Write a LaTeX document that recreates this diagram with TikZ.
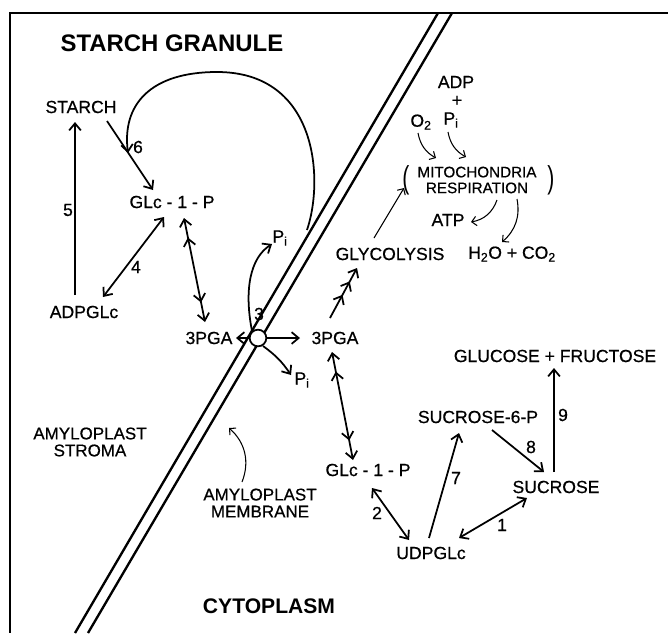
\documentclass[tikz,border=0pt]{standalone}
\usepackage{fontspec}
\setmainfont{Liberation Sans}
\newfontfamily\pen{Liberation Sans}[FakeBold=0.6]
\usetikzlibrary{arrows.meta,positioning,calc,decorations.markings}

\begin{document}
\begin{tikzpicture}[
  x=0.03cm, y=-0.03cm,
  >={Straight Barb[length=6pt,width=10pt]},
  every node/.style={font=\pen\fontsize{15}{16}\selectfont, inner sep=1pt},
  ttl/.style={font=\bfseries\fontsize{#1}{#1}\selectfont},
  two/.style={align=center, font=\pen\fontsize{14.5}{14.5}\selectfont},
  par/.style={font=\fontsize{18}{18}\selectfont},
  rx/.style={line width=1.5pt, ->},
  rv/.style={line width=1.5pt, <->},
  dbl/.style={rv, postaction={decorate}, decoration={markings,
      mark=at position 17pt with {\arrowreversed{>}},
      mark=at position -17pt with {\arrow{>}}}},
  tri/.style={rx, postaction={decorate}, decoration={markings,
      mark=at position -13pt with {\arrow{>}},
      mark=at position -26pt with {\arrow{>}}}},
  fine/.style={line width=0.9pt, -{Straight Barb[length=4pt,width=8pt]}},
  wall/.style={line width=2pt}
]
  \useasboundingbox (0,0) rectangle (668,633);
  % frame and membrane
  \draw[line width=1.6pt] (668,13) -- (10,13) -- (10,633);
  \draw[wall] (438,13) -- (75,633);
  \draw[wall] (452,13) -- (88,633);

  \node[ttl=20.4] (granule) at (172,43) {STARCH GRANULE};
  \node[ttl=18] (cyto) at (269,606) {CYTOPLASM};

  % amyloplast side
  \node (starch) at (81,107) {STARCH};
  \node (g1pin) at (172,202) {GLc - 1 - P};
  \node (adpg) at (84,312) {ADPGLc};
  \node (pgain) at (209,338) {3PGA};
  \node (piin) at (280,238) {P\textsubscript{i}};
  \node[circle, draw, fill=white, line width=1.5pt, minimum size=0.5cm] (trans) at (258,338) {};
  \node[two] (stroma) at (90,442) {AMYLOPLAST\\STROMA};
  \node[two] (membr) at (260,503) {AMYLOPLAST\\MEMBRANE};
  \coordinate (join6) at (128,153);

  % cytoplasm side
  \node (pgaout) at (335,338) {3PGA};
  \node (piout) at (302,380) {P\textsubscript{i}};
  \node (glyc) at (390,254) {GLYCOLYSIS};
  \node[align=center, font=\pen\fontsize{13}{13.5}\selectfont] (mito) at (477,180) {MITOCHONDRIA\\RESPIRATION};
  \node[par] (lpar) at (406,180) {\scalebox{1}[1.5]{(}};
  \node[par] (rpar) at (551,180) {\scalebox{1}[1.5]{)}};
  \node (adp) at (456,82) {ADP};
  \node (plus) at (457,101) {+};
  \node (o2) at (421,122) {O\textsubscript{2}};
  \node (pimito) at (451,120) {P\textsubscript{i}};
  \node (atp) at (448,220) {ATP};
  \node (h2o) at (512,254) {H\textsubscript{2}O + CO\textsubscript{2}};
  \node (g1pout) at (368,470) {GLc - 1 - P};
  \node (udpg) at (431,553) {UDPGLc};
  \node (suc6p) at (478,417) {SUCROSE-6-P};
  \node (sucr) at (556,487) {SUCROSE};
  \node (glufru) at (555,356) {GLUCOSE + FRUCTOSE};

  % enzyme numbers
  \node (n1) at (502,525) {1};
  \node (n2) at (377,513) {2};
  \node (n3) at (259,314) {3};
  \node (n4) at (136,267) {4};
  \node (n5) at (68,210) {5};
  \node (n6) at (138,147) {6};
  \node (n7) at (456,478) {7};
  \node (n8) at (531,447) {8};
  \node (n9) at (563,415) {9};

  \draw[rx] ($(adpg)+(-9,-17)$) -- ($(starch)+(-6,15)$);
  \draw[rx] ($(starch)+(26,14)$) -- ($(g1pin)+(-19,-12)$);
  \draw[rx] ($(piin)+(27,-8)$) .. controls (324,180) and (318,72) .. (217,72)
    .. controls (150,72) and (122,105) .. (join6);
  \draw[rv] ($(g1pin)+(-8,15)$) -- ($(adpg)+(19,-15)$);
  \draw[dbl] ($(g1pin)+(12,16)$) -- ($(pgain)+(-4,-16)$);
  \draw[rx] (trans) ++(-9,0) -- ($(pgain)+(27,0)$);
  \draw[rx] (trans) ++(9,0) -- ($(pgaout)+(-35,0)$);
  \draw[rx] ($(trans)+(-6,-7)$) .. controls (244,290) and (250,258) .. ($(piin)+(-8,6)$);
  \draw[rx] ($(trans)+(5,8)$) to[bend left=10] ($(piout)+(-11,-5)$);
  \draw[fine] ($(membr)+(-18,-21)$) to[bend right=35] ($(membr)+(-31,-75)$);

  \draw[tri] ($(pgaout)+(-5,-20)$) -- ($(glyc)+(-33,14)$);
  \draw[fine] ($(glyc)+(-16,-16)$) -- ($(mito)+(-73,8)$);
  \draw[fine] ($(o2)+(-3,11)$) to[bend right=25] ($(mito)+(-41,-22)$);
  \draw[fine] ($(pimito)+(-3,12)$) to[bend right=25] ($(mito)+(-11,-23)$);
  \draw[fine] ($(mito)+(20,20)$) to[bend left=30] ($(atp)+(23,2)$);
  \draw[fine] ($(mito)+(40,19)$) to[bend left=30] ($(h2o)+(-10,-12)$);
  \draw[dbl] ($(pgaout)+(-3,14)$) -- ($(g1pout)+(-15,-10)$);
  \draw[rv] ($(g1pout)+(4,18)$) -- ($(udpg)+(-22,-13)$);
  \draw[rx] ($(udpg)+(-2,-15)$) -- ($(suc6p)+(-19,16)$);
  \draw[rx] ($(suc6p)+(14,13)$) -- ($(sucr)+(-12,-15)$);
  \draw[rx] ($(sucr)+(-2,-15)$) -- ($(glufru)+(-1,12)$);
  \draw[rv] ($(sucr)+(-29,11)$) -- ($(udpg)+(28,-15)$);
\end{tikzpicture}
\end{document}
